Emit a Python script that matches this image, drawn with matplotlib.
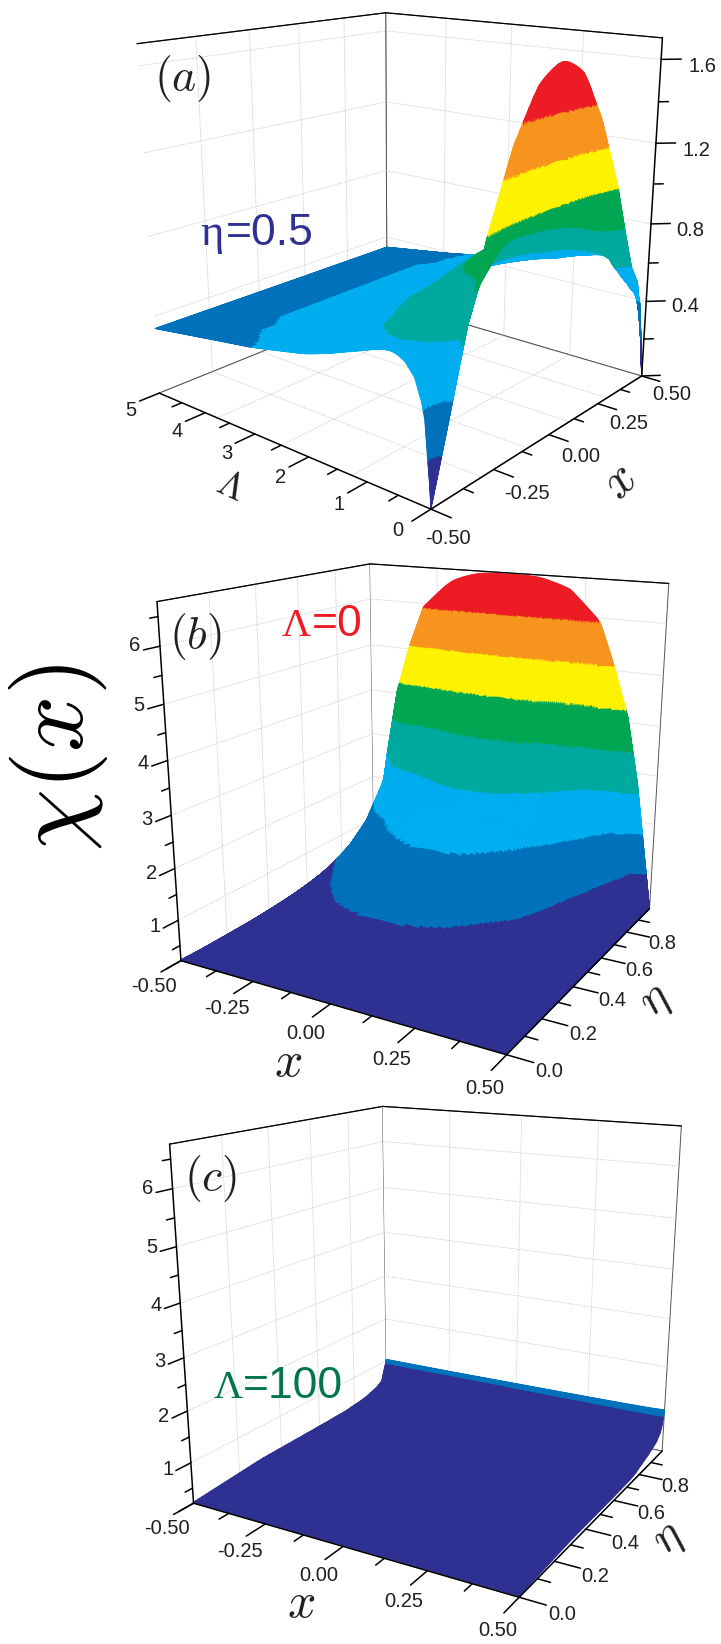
import numpy as np, matplotlib
matplotlib.use('Agg')
import matplotlib.pyplot as plt
from mpl_toolkits.mplot3d import proj3d
W,H=721,1644
plt.rcParams['mathtext.fontset']='cm'
plt.rcParams['font.family']=['Liberation Sans','DejaVu Sans']
fig=plt.figure(figsize=(W/100,H/100),dpi=100)

COLORS=['#2e3192','#0072bc','#00aeef','#00a99d','#00a651','#fff200','#f7941d','#ed1c24']
LEVELS_A=[.21,.42,.63,.84,1.05,1.26,1.47]
LEVELS_BC=[.95,1.78,2.6,3.43,4.26,5.09,5.92]

X_A=[-.5,-.47,-.44,-.4,-.35,-.3,-.2,-.1,0,.1,.2,.3,.35,.4,.44,.47,.5]
L_A=[0,.02,.05,.1,.15,.25,.4,.6,.9,1.25,1.6,2,3,3.5,5]
Z_A=[[0,.16,.32,.54,.81,1.04,1.39,1.62,1.70,1.63,1.39,1.05,.83,.62,.53,.33,0],
[.1,.2,.34,.54,.78,.98,1.25,1.43,1.47,1.43,1.25,.98,.78,.6,.5,.35,.1],
[.2,.28,.38,.54,.72,.9,1.12,1.24,1.27,1.24,1.12,.9,.72,.6,.5,.4,.2],
[.38,.4,.44,.55,.66,.84,.98,1.04,1.06,1.04,.98,.84,.66,.58,.5,.44,.38],
[.45,.46,.49,.56,.63,.82,.95,1.0,1.02,1.0,.95,.82,.63,.56,.49,.46,.45],
[.54,.54,.55,.62,.68,.8,.92,.97,.98,.97,.92,.8,.68,.62,.55,.54,.52],
[.6,.6,.6,.65,.7,.8,.9,.94,.95,.94,.9,.82,.72,.65,.6,.58,.58],
[.63,.63,.63,.68,.72,.79,.86,.9,.91,.9,.87,.82,.74,.67,.63,.62,.6],
[.6,.61,.63,.66,.7,.74,.8,.83,.84,.83,.82,.76,.72,.67,.62,.6,.58],
[.56,.57,.59,.62,.63,.65,.7,.72,.72,.72,.71,.68,.64,.62,.6,.57,.55],
[.52,.53,.54,.55,.57,.59,.62,.62,.62,.62,.62,.6,.57,.55,.54,.53,.51],
[.48,.49,.5,.51,.52,.53,.55,.56,.56,.56,.55,.53,.52,.51,.5,.49,.48],
[.42,.42,.43,.44,.44,.45,.46,.46,.46,.46,.46,.45,.44,.44,.43,.43,.43],
[.40,.40,.40,.41,.41,.42,.42,.42,.42,.42,.42,.42,.41,.41,.41,.41,.40],
[.337,.337,.337,.337,.337,.337,.337,.337,.337,.337,.337,.337,.337,.337,.337,.337,.337]]

X_B=[-.5,-.47,-.44,-.4,-.35,-.3,-.2,-.1,0,.1,.2,.3,.35,.4,.44,.47,.5]
E_B=[0,.1,.2,.3,.4,.5,.6,.7,.8,.9,.95,.975,.99,1.0]
Z_B=[[.22,.22,.22,.22,.22,.22,.22,.22,.22,.22,.22,.22,.22,.22,.22,.22,.22],
[.2,.32,.4,.46,.5,.53,.58,.6,.6,.6,.58,.53,.5,.46,.4,.32,.2],
[.2,.33,.43,.5,.56,.62,.72,.76,.76,.75,.7,.6,.55,.5,.43,.33,.2],
[.2,.35,.46,.55,.64,.72,.88,.97,.98,.93,.82,.68,.62,.54,.46,.35,.2],
[.2,.37,.5,.62,.74,.85,1.12,1.26,1.27,1.2,.96,.8,.7,.6,.5,.37,.2],
[.21,.4,.56,.72,.88,1.05,1.4,1.6,1.65,1.55,1.22,.95,.78,.66,.53,.38,.2],
[.23,.45,.64,.9,1.1,1.3,1.73,1.96,2.0,1.9,1.55,1.1,.88,.72,.57,.4,.2],
[.35,.52,.74,1.1,1.4,1.6,2.1,2.32,2.35,2.2,1.85,1.4,1.0,.78,.62,.42,.2],
[.5,.62,.9,1.45,1.95,2.2,2.5,2.75,2.85,2.7,2.3,1.7,1.3,.88,.68,.45,.2],
[.7,.95,1.3,2.1,2.8,3.0,3.1,3.35,3.4,3.25,2.9,2.3,1.8,1.2,.76,.5,.2],
[.9,1.2,1.6,2.6,3.2,3.4,3.6,3.95,4.1,3.9,3.3,2.55,2.2,1.7,.85,.55,.2],
[1.0,1.3,1.8,3.2,4.2,4.2,4.4,4.9,5.0,4.9,4.3,3.2,2.7,2.4,.95,.6,.2],
[1.1,1.38,2.1,3.6,4.7,5.0,5.5,5.85,5.9,5.85,5.4,4.6,3.8,3.1,1.7,.9,.2],
[1.13,1.42,2.65,4.05,5.1,5.93,6.53,6.72,6.73,6.72,6.53,5.93,5.08,4.1,2.8,1.5,.2]]

X_C=[-.5,-.47,-.4,-.25,0,.25,.4,.47,.5]
E_C=[0,.3,.6,.75,.87,.94,.97,.985,.995,1.0]
Z_C=[[.22,.22,.22,.22,.22,.22,.22,.22,.22],
[.32,.36,.4,.43,.45,.43,.4,.34,.28],
[.33,.38,.44,.48,.5,.48,.44,.36,.28],
[.34,.4,.48,.53,.55,.53,.48,.38,.29],
[.4,.46,.53,.58,.6,.58,.53,.46,.43],
[.5,.55,.6,.64,.66,.64,.6,.55,.54],
[.58,.62,.66,.7,.72,.7,.66,.63,.66],
[.8,.8,.78,.8,.8,.8,.78,.8,.8],
[.93,.94,.94,.94,.94,.94,.94,.94,.96],
[1.04,1.04,1.04,1.04,1.05,1.06,1.07,1.08,1.09]]

def refine(v,diffs,dz,dv):
    out=[]
    for i in range(len(v)-1):
        n=int(np.clip(max(np.ceil(diffs[i]/dz),np.ceil((v[i+1]-v[i])/dv)),4,50))
        out.append(np.linspace(v[i],v[i+1],n,endpoint=False))
    out.append([v[-1]])
    return np.concatenate(out)

def px(x,y):
    return x/W,1-y/H

def panel(cam,X,Y,Z,levels,lims,dz,grid):
    el,az,f,b,c,S,cx,cy=cam
    ax=fig.add_axes([(cx-S/2)/W,1-(cy+S/2)/H,S/W,S/H],projection='3d')
    ax.set_facecolor('none'); ax.computed_zorder=False
    ax.view_init(el,az); ax.set_proj_type('persp',focal_length=f); ax.set_box_aspect((1,b,c))
    Za=np.array(Z,float)
    xf=refine(X,np.abs(np.diff(Za,axis=1)).max(axis=0),dz,(X[-1]-X[0])/140)
    yf=refine(Y,np.abs(np.diff(Za,axis=0)).max(axis=1),dz,(Y[-1]-Y[0])/90)
    Zt=np.array([np.interp(xf,X,r) for r in Za])
    Zf=np.array([np.interp(yf,Y,Zt[:,j]) for j in range(Zt.shape[1])]).T
    for _ in range(30):   # round off the table's corners when drawing
        Zf[:,1:-1]=.25*Zf[:,:-2]+.5*Zf[:,1:-1]+.25*Zf[:,2:]
    for _ in range(8):
        Zf[1:-1,:]=.25*Zf[:-2,:]+.5*Zf[1:-1,:]+.25*Zf[2:,:]
    XX,YY=np.meshgrid(xf,yf)
    Zm=.25*(Zf[:-1,:-1]+Zf[1:,:-1]+Zf[:-1,1:]+Zf[1:,1:])
    fc=matplotlib.colors.to_rgba_array(COLORS)[np.digitize(Zm,levels)]
    ax.plot_surface(XX,YY,Zf,rstride=1,cstride=1,facecolors=fc,shade=False,linewidth=.7,antialiased=True,zorder=2)
    ax.set_xlim(*lims[0]);ax.set_ylim(*lims[1]);ax.set_zlim(*lims[2])
    ax.set_xticks(grid[0]);ax.set_yticks(grid[1]);ax.set_zticks(grid[2])
    ax.set_xticklabels([]);ax.set_yticklabels([]);ax.set_zticklabels([])
    for a in (ax.xaxis,ax.yaxis,ax.zaxis):
        a.set_pane_color((1,1,1,1)); a.pane.set_edgecolor('#555555'); a.pane.set_linewidth(.7)
        a.line.set_color((0,0,0,0))
        a._axinfo['tick'].update(inward_factor=0,outward_factor=0,linewidth={True:0,False:0})
        a._axinfo['grid'].update(color='#c4c4c4',linewidth=.6,linestyle=(0,(1.2,1.2)))
    return ax

LW=1.1
def seg(ax,a,b,lw=LW,c='k'):
    ax.plot([a[0],b[0]],[a[1],b[1]],[a[2],b[2]],color=c,lw=lw,zorder=5,solid_capstyle='round')

def label(ax,x,y,z,s,fs=14.5):
    X,Y,_=proj3d.proj_transform(x,y,z,ax.get_proj())
    ax.text2D(X,Y,s,transform=ax.transData,fontsize=fs,ha='center',va='center',color='#231f20',zorder=6,clip_on=False)

TX=[-.5,-.25,0,.25,.5]; TXL=['-0.50','-0.25','0.00','0.25','0.50']; TXm=[-.375,-.125,.125,.375]
TL=[0,1,2,3,4,5]; TLm=[.5,1.5,2.5,3.5,4.5]
TZA=[.4,.8,1.2,1.6]; TZAL=['0.4','0.8','1.2','1.6']; TZAm=[.2,.6,1.0,1.4]
TE=[0,.2,.4,.6,.8]; TEL=['0.0','0.2','0.4','0.6','0.8']; TEm=[.1,.3,.5,.7,.9]
TZB=[1,2,3,4,5,6]; TZBm=[.5,1.5,2.5,3.5,4.5,5.5,6.5]

# (a)
CAM_A=(16.134,-139.952,.3575,1.0018,1.0016,600.21,396.46,228.02)
ax=panel(CAM_A,X_A,L_A,Z_A,LEVELS_A,[(-.5,.5),(0,5),(0,1.7)],.012,([-.3,-.1,.1,.3],[1.25,2.5,3.75],TZA))
zt=1.7
seg(ax,(-.5,5,zt),(.5,5,zt),.9);seg(ax,(.5,5,zt),(.5,0,zt),.9)
seg(ax,(-.5,0,0),(.5,0,0));seg(ax,(-.5,0,0),(-.5,5,0));seg(ax,(.5,0,0),(.5,0,zt))
for t in TX: seg(ax,(t,0,0),(t,-.3,0))
for t in TXm: seg(ax,(t,0,0),(t,-.15,0))
for t in TL: seg(ax,(-.5,t,0),(-.57,t,0))
for t in TLm: seg(ax,(-.5,t,0),(-.535,t,0))
seg(ax,(.5,0,0),(.54,-.2,0))
for t in TZA: seg(ax,(.5,0,t),(.54,-.2,t))
for t in TZAm: seg(ax,(.5,0,t),(.52,-.1,t))
for t,s in zip(TX,TXL):
    if t==-.5: label(ax,t,-.25,-.1,s)
    else: label(ax,t,-.5,-.05,s)
for t in TL:
    if t==0: label(ax,-.62,0,0,'0')
    else: label(ax,-.6,t,-.03,str(t))
for t,s in zip(TZA,TZAL): label(ax,.59,-.4,t-.04,s)

# (b),(c)
CAM_B=(16.434,-60.075,.3541,.9924,.9914,599.04,419.28,778.20)
CAM_C=(16.434,-60.075,.3541,.9924,.9914,599.04,431.88,1320.70)
for cam,X,Y,Z,dz in ((CAM_B,X_B,E_B,Z_B,.04),(CAM_C,X_C,E_C,Z_C,.012)):
    ax=panel(cam,X,Y,Z,LEVELS_BC,[(-.5,.5),(0,1),(.2,6.75)],dz,([-.25,0,.25],[.2,.4,.6,.8],TZB))
    zb,zt=.2,6.75
    seg(ax,(-.5,0,zt),(-.5,1,zt),.9);seg(ax,(-.5,1,zt),(.5,1,zt),.9)
    seg(ax,(-.5,0,zb),(.5,0,zb));seg(ax,(.5,0,zb),(.5,1,zb));seg(ax,(-.5,0,zb),(-.5,0,zt))
    for t in TX: seg(ax,(t,0,zb),(t,-.08,zb))
    for t in TXm: seg(ax,(t,0,zb),(t,-.04,zb))
    for t in TE: seg(ax,(.5,t,zb),(.57,t,zb))
    for t in TEm: seg(ax,(.5,t,zb),(.535,t,zb))
    seg(ax,(-.5,0,zb),(-.5,-.06,zb))
    for t in TZB: seg(ax,(-.5,0,t),(-.5,-.06,t))
    for t in TZBm: seg(ax,(-.5,0,t),(-.5,-.03,t))
    for t,s in zip(TX,TXL): label(ax,t,-.11,zb-.2,s)
    for t,s in zip(TE,TEL): label(ax,.61,t,zb-.08,s)
    for t in TZB: label(ax,-.5,-.09,t+.1,str(t))

INK='#231f20'
for s,(x,y) in (('$(a)$',(183,78)),('$(b)$',(195,636)),('$(c)$',(210,1179))):
    fig.text(*px(x,y),s,fontsize=33,ha='center',va='center',color=INK)
fig.text(*px(58,758),r'$\chi(x)$',fontsize=71,rotation=90,ha='center',va='center',color='k')
fig.text(*px(230,487),r'$\mathit{\Lambda}$',fontsize=27,rotation=-25,ha='center',va='center',color=INK)
fig.text(*px(620,482),'$x$',fontsize=36,rotation=45,ha='center',va='center',color=INK)
fig.text(*px(288,1063),'$x$',fontsize=36,ha='center',va='center',color=INK)
fig.text(*px(301,1604),'$x$',fontsize=36,ha='center',va='center',color=INK)
fig.text(*px(656,1001),r'$\eta$',fontsize=34,rotation=42,ha='center',va='center',color=INK)
fig.text(*px(669,1539),r'$\eta$',fontsize=34,rotation=42,ha='center',va='center',color=INK)

SERIF='Liberation Serif'
fig.text(*px(200,245),'η',fontsize=32,family=SERIF,color='#2e3192',ha='left',va='baseline')
fig.text(*px(226,245),'=0.5',fontsize=32,color='#2e3192',ha='left',va='baseline')
fig.text(*px(282,636),'Λ',fontsize=29,family=SERIF,color='#ed1c24',ha='left',va='baseline')
fig.text(*px(312,636),'=0',fontsize=32,color='#ed1c24',ha='left',va='baseline')
fig.text(*px(214,1398),'Λ',fontsize=29,family=SERIF,color='#00764a',ha='left',va='baseline')
fig.text(*px(243,1398),'=100',fontsize=32,color='#00764a',ha='left',va='baseline')
fig.savefig('out.png',dpi=100)
